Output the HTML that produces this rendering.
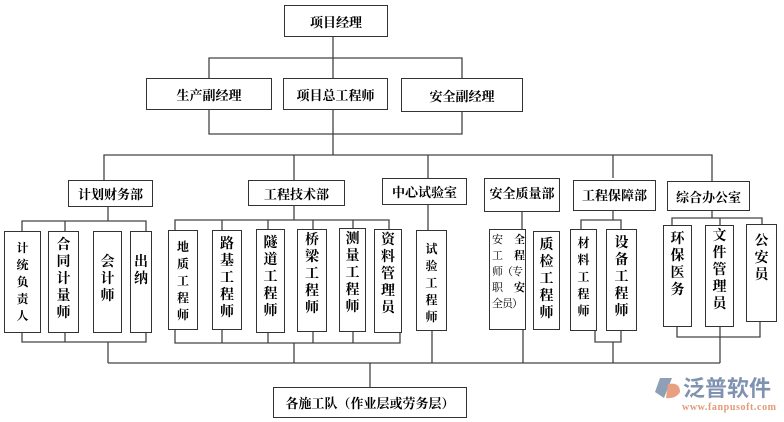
<!DOCTYPE html>
<html><head><meta charset="utf-8"><style>
body{margin:0;width:784px;height:422px;background:#fff;position:relative;overflow:hidden;font-family:"Liberation Serif","Noto Serif CJK SC",serif;font-weight:bold;color:#000}
.b{position:absolute;border:1.3px solid #333;box-sizing:border-box;background:#fff;font-size:13px;display:flex;align-items:center;justify-content:center;white-space:nowrap}
.v{position:absolute;border:1.3px solid #333;box-sizing:border-box;background:#fff;font-size:14px;line-height:17px;text-align:center;padding-top:5px}
.v span{display:block}
svg{position:absolute;left:0;top:0}
</style></head><body>
<svg width="784" height="422"><g stroke="#444" stroke-width="1.3" fill="none">
<path d="M333 37V155M209 78V58H462V78M209 110V134H462V110"/>
<path d="M104 180V155H712V182M294 155V180M428 155V178M613 155V178"/>
<path d="M108 207V221M22 231V221H146V231M65 221V231"/>
<path d="M294 206V220M175 230V220H389V229M222 220V230M268 220V229M313 220V229M353 220V228"/>
<path d="M428 205V230M522 212V229"/>
<path d="M613 211V220M581 229V220H621V229"/>
<path d="M712 211V218M672 225V218H762V224M720 218V225"/>
<path d="M22 333V342H146V333M65 333V342M108 342V363"/>
<path d="M175 330V343H400V333M222 330V343M268 333V343M313 332V343M353 332V343M294 343V363"/>
<path d="M432 331V363M523 328V363M595 331V342H621V331M613 342V363M677 327V337H760V322M720 327V363"/>
<path d="M108 363H720M370 363V387"/>
</g></svg>
<div class="b" style="left:284px;top:5px;width:104px;height:32px">项目经理</div>
<div class="b" style="left:146px;top:78px;width:126px;height:32px">生产副经理</div>
<div class="b" style="left:283px;top:78px;width:105px;height:32px">项目总工程师</div>
<div class="b" style="left:401px;top:78px;width:122px;height:34px">安全副经理</div>
<div class="b" style="left:68px;top:180px;width:85px;height:27px">计划财务部</div>
<div class="b" style="left:248px;top:180px;width:97px;height:26px">工程技术部</div>
<div class="b" style="left:382px;top:178px;width:85px;height:27px">中心试验室</div>
<div class="b" style="left:484px;top:178px;width:76px;height:34px;align-items:flex-start;padding-top:4px">安全质量部</div>
<div class="b" style="left:573px;top:180px;width:83px;height:31px;align-items:flex-start;padding-top:4px">工程保障部</div>
<div class="b" style="left:667px;top:181px;width:83px;height:30px">综合办公室</div>
<div class="v" style="left:4px;top:231px;width:37px;height:102px;font-size:12px;padding-top:8px"><span>计</span><span>统</span><span>负</span><span>责</span><span>人</span></div>
<div class="v" style="left:48px;top:231px;width:31px;height:102px"><span>合</span><span>同</span><span>计</span><span>量</span><span>师</span></div>
<div class="v" style="left:93px;top:231px;width:29px;height:102px;padding-top:22px"><span>会</span><span>计</span><span>师</span></div>
<div class="v" style="left:130px;top:231px;width:22px;height:102px;padding-top:22px"><span>出</span><span>纳</span></div>
<div class="v" style="left:168px;top:230px;width:30px;height:100px;font-size:12px;padding-top:8px"><span>地</span><span>质</span><span>工</span><span>程</span><span>师</span></div>
<div class="v" style="left:212px;top:230px;width:30px;height:100px"><span>路</span><span>基</span><span>工</span><span>程</span><span>师</span></div>
<div class="v" style="left:256px;top:229px;width:29px;height:104px"><span>隧</span><span>道</span><span>工</span><span>程</span><span>师</span></div>
<div class="v" style="left:297px;top:229px;width:30px;height:103px;padding-top:2px"><span>桥</span><span>梁</span><span>工</span><span>程</span><span>师</span></div>
<div class="v" style="left:339px;top:228px;width:27px;height:104px;padding-top:2px"><span>测</span><span>量</span><span>工</span><span>程</span><span>师</span></div>
<div class="v" style="left:374px;top:229px;width:28px;height:104px;padding-top:2px"><span>资</span><span>料</span><span>管</span><span>理</span><span>员</span></div>
<div class="v" style="left:416px;top:230px;width:31px;height:101px;font-size:12px;padding-top:10px"><span>试</span><span>验</span><span>工</span><span>程</span><span>师</span></div>
<div class="v" style="left:489px;top:229px;width:37px;height:101px;font-size:11px;line-height:16px;text-align:left;padding:2px 1px 0 2px;font-weight:normal;white-space:nowrap;letter-spacing:-1px"><span style="display:flex;justify-content:space-between">安<b>全</b></span><span style="display:flex;justify-content:space-between">工<b>程</b></span><span>师（专</span><span style="display:flex;justify-content:space-between">职<b>安</b></span><span>全员）</span></div>
<div class="v" style="left:533px;top:231px;width:27px;height:99px"><span>质</span><span>检</span><span>工</span><span>程</span><span>师</span></div>
<div class="v" style="left:570px;top:229px;width:27px;height:102px;font-size:12px"><span>材</span><span>料</span><span>工</span><span>程</span><span>师</span></div>
<div class="v" style="left:606px;top:229px;width:31px;height:102px"><span>设</span><span>备</span><span>工</span><span>程</span><span>师</span></div>
<div class="v" style="left:663px;top:225px;width:29px;height:102px"><span>环</span><span>保</span><span>医</span><span>务</span></div>
<div class="v" style="left:705px;top:225px;width:29px;height:102px;padding-top:2px"><span>文</span><span>件</span><span>管</span><span>理</span><span>员</span></div>
<div class="v" style="left:746px;top:224px;width:31px;height:98px;padding-top:8px"><span>公</span><span>安</span><span>员</span></div>
<div class="b" style="left:273px;top:387px;width:194px;height:31px">各施工队（作业层或劳务层）</div>
<svg width="784" height="422" style="pointer-events:none">
<path d="M660 378 L672 378 L664 398 L655 392 Z" fill="#8ea0b8"/>
<path d="M668 384 Q680 382 680 392 Q676 399 666 398 Z" fill="#e8a080"/>
<text x="683" y="396" font-size="22" fill="#7f93b0" font-family="Noto Sans CJK SC, sans-serif" font-weight="bold">泛普软件</text>
<text x="682" y="410" font-size="10" fill="#e29a78" font-family="Liberation Serif, serif" font-weight="bold" textLength="94">www.fanpusoft.com</text>
</svg>
</body></html>
